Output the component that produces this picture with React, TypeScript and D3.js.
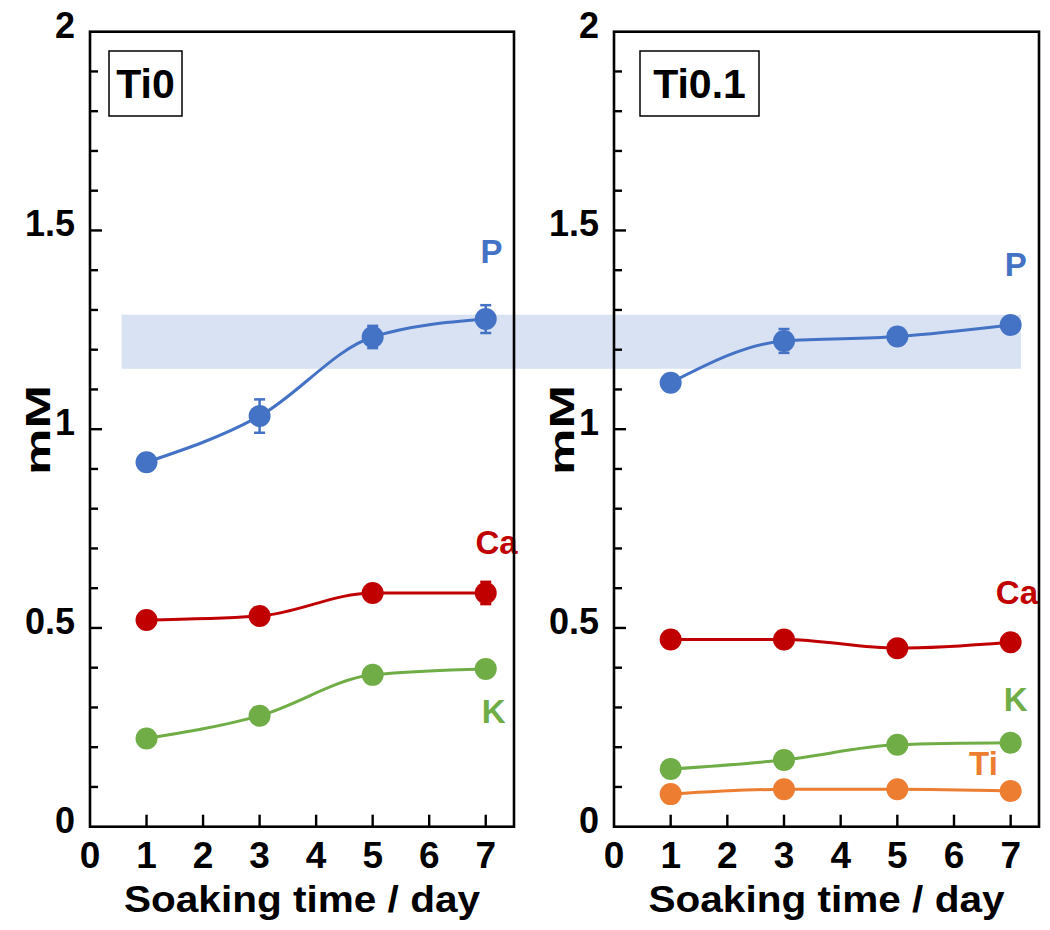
import React from "react";
import * as d3 from "d3";

// ---- data ----
const days = [1, 3, 5, 7];
const xTickValues = [0, 1, 2, 3, 4, 5, 6, 7];
const yTickLabels = ["0", "0.5", "1", "1.5", "2"];
const yTickValues = [0, 0.5, 1, 1.5, 2];

const ti0P = [0.917, 1.033, 1.232, 1.277];
const ti0PErr = [0.01, 0.042, 0.028, 0.035];
const ti0Ca = [0.52, 0.53, 0.588, 0.588];
const ti0CaErr = [0, 0, 0.012, 0.028];
const ti0K = [0.222, 0.279, 0.382, 0.397];

const ti01P = [1.117, 1.222, 1.233, 1.262];
const ti01PErr = [0, 0.03, 0, 0];
const ti01Ca = [0.471, 0.471, 0.449, 0.464];
const ti01K = [0.145, 0.168, 0.206, 0.211];
const ti01Ti = [0.082, 0.094, 0.094, 0.09];

const bandRange = [1.152, 1.288];

const COLORS: Record<string, string> = {
  P: "#4472C4",
  Ca: "#C00000",
  K: "#70AD47",
  Ti: "#ED7D31",
};

type Series = { name: string; values: number[]; err?: number[] };

const panels = [
  {
    title: "Ti0",
    x0: 90,
    x1: 514,
    boxDx: 19,
    boxW: 73,
    series: [
      { name: "P", values: ti0P, err: ti0PErr },
      { name: "Ca", values: ti0Ca, err: ti0CaErr },
      { name: "K", values: ti0K },
    ] as Series[],
    labels: [
      { name: "P", x: 7.1, y: 1.446 },
      { name: "Ca", x: 7.19, y: 0.716 },
      { name: "K", x: 7.14, y: 0.289 },
    ],
    bandStart: 0.56,
    bandEnd: null as number | null,
  },
  {
    title: "Ti0.1",
    x0: 614,
    x1: 1039,
    boxDx: 26,
    boxW: 119,
    series: [
      { name: "P", values: ti01P, err: ti01PErr },
      { name: "Ca", values: ti01Ca },
      { name: "K", values: ti01K },
      { name: "Ti", values: ti01Ti },
    ] as Series[],
    labels: [
      { name: "P", x: 7.09, y: 1.415 },
      { name: "Ca", x: 7.11, y: 0.59 },
      { name: "K", x: 7.09, y: 0.319 },
      { name: "Ti", x: 6.52, y: 0.158 },
    ],
    bandStart: null as number | null,
    bandEnd: 7.18,
  },
];

const TOP = 31.7;
const BOTTOM = 826.7;
const FONT = "'Liberation Sans', Arial, Helvetica, sans-serif";

const yScale = d3.scaleLinear().domain([0, 2]).range([BOTTOM, TOP]);

export default function App() {
  const xScales = panels.map((p) =>
    d3.scaleLinear().domain([0, 7.5]).range([p.x0, p.x1])
  );
  const bandX0 = xScales[0](panels[0].bandStart as number);
  const bandX1 = xScales[1](panels[1].bandEnd as number);
  const minorTicks = d3.range(1, 20).map((i) => i / 10);

  return (
    <svg
      width={1050}
      height={930}
      style={{ position: "absolute", left: 0, top: 0, display: "block", background: "#fff" }}
      fontFamily={FONT}
      fontWeight="bold"
    >
      {/* shaded band */}
      <rect
        x={bandX0}
        y={yScale(bandRange[1])}
        width={bandX1 - bandX0}
        height={yScale(bandRange[0]) - yScale(bandRange[1])}
        fill="#D9E2F3"
      />
      {panels.map((p, pi) => {
        const x = xScales[pi];
        const line = d3
          .line<number>()
          .x((_, i) => x(days[i]))
          .y((v) => yScale(v))
          .curve(d3.curveMonotoneX);
        const cx = (p.x0 + p.x1) / 2;
        return (
          <g key={p.title}>
            {/* series */}
            {p.series.map((s) => (
              <g key={s.name}>
                <path d={line(s.values) || ""} fill="none" stroke={COLORS[s.name]} strokeWidth={3} />
                {s.err &&
                  s.err.map((e, i) =>
                    e > 0 ? (
                      <g key={i} stroke={COLORS[s.name]} strokeWidth={2.5}>
                        <line x1={x(days[i])} x2={x(days[i])} y1={yScale(s.values[i] - e)} y2={yScale(s.values[i] + e)} />
                        <line x1={x(days[i]) - 5.5} x2={x(days[i]) + 5.5} y1={yScale(s.values[i] + e)} y2={yScale(s.values[i] + e)} />
                        <line x1={x(days[i]) - 5.5} x2={x(days[i]) + 5.5} y1={yScale(s.values[i] - e)} y2={yScale(s.values[i] - e)} />
                      </g>
                    ) : null
                  )}
                {s.values.map((v, i) => (
                  <circle key={i} cx={x(days[i])} cy={yScale(v)} r={11} fill={COLORS[s.name]} />
                ))}
              </g>
            ))}
            {/* series labels */}
            {p.labels.map((l) => (
              <text
                key={l.name}
                x={x(l.x)}
                y={yScale(l.y)}
                textAnchor="middle"
                dominantBaseline="central"
                fontSize={33}
                fill={COLORS[l.name]}
              >
                {l.name}
              </text>
            ))}
            {/* frame */}
            <rect
              x={p.x0}
              y={TOP}
              width={p.x1 - p.x0}
              height={BOTTOM - TOP}
              fill="none"
              stroke="#000"
              strokeWidth={2.6}
            />
            {/* y ticks */}
            {minorTicks.map((t) => {
              const major = Math.abs(t * 2 - Math.round(t * 2)) < 1e-6;
              return (
                <line
                  key={t}
                  x1={p.x0}
                  x2={p.x0 + (major ? 12 : 8)}
                  y1={yScale(t)}
                  y2={yScale(t)}
                  stroke="#000"
                  strokeWidth={2.4}
                />
              );
            })}
            {yTickValues.map((t, i) => (
              <text
                key={t}
                x={p.x0 - 15}
                y={yScale(t) - 6.5}
                textAnchor="end"
                dominantBaseline="central"
                fontSize={36}
                fill="#000"
              >
                {yTickLabels[i]}
              </text>
            ))}
            {/* x ticks */}
            {xTickValues.map((t) => (
              <g key={t}>
                {t > 0 && (
                  <line x1={x(t)} x2={x(t)} y1={BOTTOM} y2={BOTTOM - 12} stroke="#000" strokeWidth={2.4} />
                )}
                <text x={x(t)} y={868} textAnchor="middle" fontSize={37} fill="#000">
                  {String(t)}
                </text>
              </g>
            ))}
            {/* axis titles */}
            <text x={cx} y={912} textAnchor="middle" fontSize={36} fill="#000" textLength={356} lengthAdjust="spacingAndGlyphs">
              Soaking time / day
            </text>
            <text
              transform={`translate(${p.x0 - 40},${430}) rotate(-90)`}
              textAnchor="middle"
              fontSize={35}
              fill="#000"
              textLength={90}
              lengthAdjust="spacingAndGlyphs"
            >
              mM
            </text>
            {/* title box */}
            <rect x={p.x0 + p.boxDx} y={51} width={p.boxW} height={65} fill="#fff" stroke="#000" strokeWidth={1.5} />
            <text
              x={p.x0 + p.boxDx + p.boxW / 2}
              y={84}
              textAnchor="middle"
              dominantBaseline="central"
              fontSize={41}
              fill="#000"
            >
              {p.title}
            </text>
          </g>
        );
      })}
    </svg>
  );
}
